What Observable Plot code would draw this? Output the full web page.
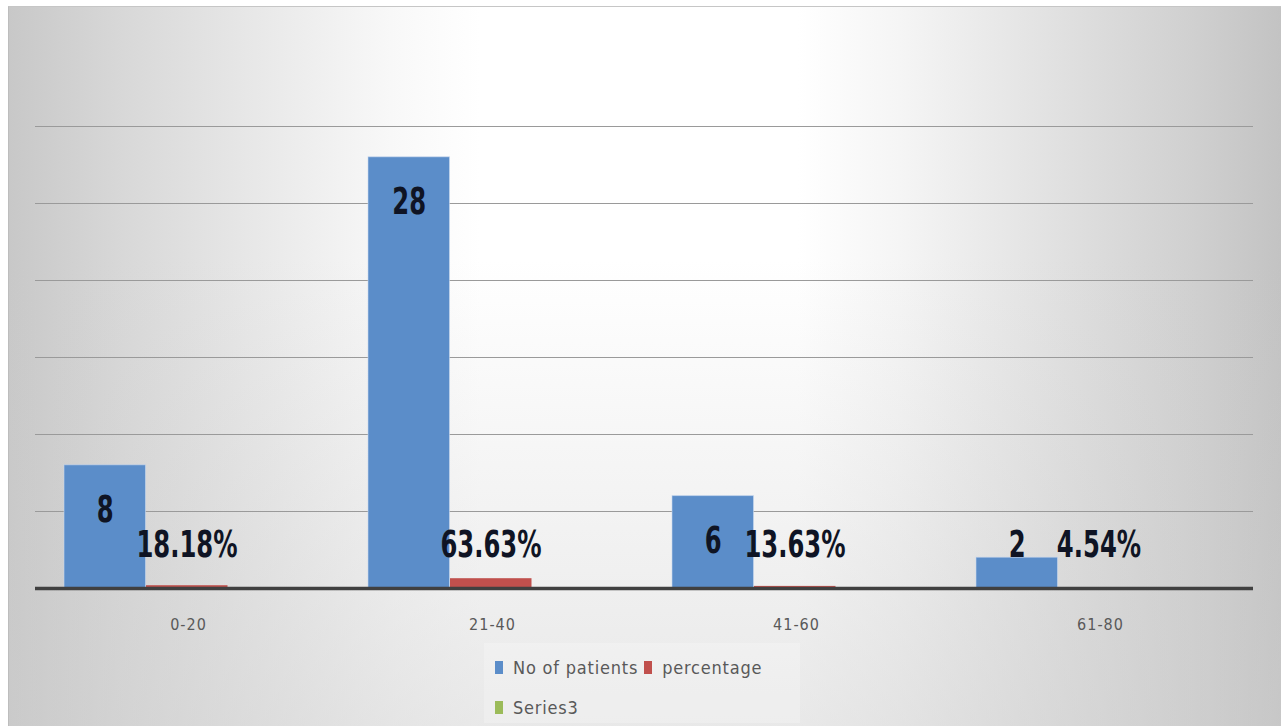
<!DOCTYPE html>
<html>
<head>
<meta charset="utf-8">
<script src="https://cdn.jsdelivr.net/npm/d3@7"></script>
<script src="https://cdn.jsdelivr.net/npm/@observablehq/plot@0.6"></script>
<style>
  html, body { margin: 0; padding: 0; background: #fff; }
  #page { position: relative; width: 1281px; height: 726px; overflow: hidden; }
  #bg {
    position: absolute; left: 8px; top: 6px; right: 0; bottom: 0;
    border-left: 1px solid #bdbdbd; border-top: 1px solid #c6c6c6;
    background:
      linear-gradient(to bottom, rgba(205,205,205,0) 35%, rgba(205,205,205,0.45) 100%),
      linear-gradient(to right, #c8c8c8 0%, #d8d8d8 9%, #e9e9e9 20%, #f8f8f8 30%, #ffffff 37%, #ffffff 62%, #f5f5f5 70%, #e3e3e3 81%, #d0d0d0 93%, #c3c3c3 100%);
  }
  #chart { position: absolute; left: 0; top: 0; }
  #legend {
    position: absolute; left: 484px; top: 643px; width: 316px; height: 80px;
    background: rgba(255,255,255,0.22); box-sizing: border-box;
    font-family: "Liberation Sans Narrow", "DejaVu Sans Condensed", sans-serif;
    font-size: 18px; color: #595959; letter-spacing: 0.8px;
  }
  .row { position: absolute; left: 11px; display: flex; align-items: center; height: 20px; }
  .item { display: flex; align-items: center; margin-right: 6px; white-space: nowrap; }
  .sw { display: inline-block; width: 8px; height: 13px; margin-right: 10px; }
</style>
</head>
<body>
<div id="page">
  <div id="bg"></div>
  <div id="chart"></div>
  <div id="legend"></div>
</div>
<script>
// ---- data ----
const categories = ["0-20", "21-40", "41-60", "61-80"];
const patients = [8, 28, 6, 2];
const percentage = [0.1818, 0.6363, 0.1363, 0.0454];
const percentLabels = ["18.18%", "63.63%", "13.63%", "4.54%"];
const series3 = [null, null, null, null];
const seriesNames = ["No of patients", "percentage", "Series3"];
const yTicks = [5, 10, 15, 20, 25, 30];

// ---- styling / layout ----
const colors = {"No of patients": "#5b8dc9", "percentage": "#c0504d", "Series3": "#9bbb59"};
const W = 1281, H = 640, mL = 35, mR = 28, mT = 126, mB = 52;
const band = (W - mL - mR) / categories.length;
const off = 28, barW = 82;

const rows = categories.map((c, i) => ({
  category: c, patients: patients[i], pct: percentage[i], pctLabel: percentLabels[i], s3: series3[i]
}));

const labelFont = `"Liberation Sans Narrow", "DejaVu Sans Condensed", sans-serif`;

const chart = Plot.plot({
  width: W, height: H,
  marginLeft: mL, marginRight: mR, marginTop: mT, marginBottom: mB,
  style: {background: "transparent", color: "#595959", fontFamily: labelFont, fontSize: "16px", overflow: "visible"},
  x: {domain: categories, padding: 0, label: null, tickSize: 0, tickPadding: 30},
  y: {domain: [0, 30], axis: null},
  marks: [
    Plot.ruleY(yTicks, {stroke: "#9a9a9a", strokeWidth: 1.2}),
    Plot.barY(rows, {x: "category", y: "patients", fill: colors["No of patients"],
      stroke: "#c9d9ee", strokeWidth: 1, strokeOpacity: 0.6,
      insetLeft: off, insetRight: band - off - barW}),
    Plot.barY(rows, {x: "category", y: "pct", fill: colors["percentage"],
      insetLeft: off + barW, insetRight: band - off - 2 * barW}),
    Plot.barY(rows.filter(d => d.s3 != null), {x: "category", y: "s3", fill: colors["Series3"],
      insetLeft: off + 2 * barW, insetRight: band - off - 3 * barW}),
    Plot.ruleY([0], {stroke: "#404040", strokeWidth: 3.5}),
    // count labels inside the bar top
    Plot.text(rows.filter(d => d.patients >= 4), {x: "category", y: "patients", text: d => String(d.patients),
      dx: off + barW / 2 - band / 2, dy: 45, fontSize: 37, fontWeight: "bold", fill: "#0f1424", fontFamily: labelFont}),
    // count labels for short bars (above the bar)
    Plot.text(rows.filter(d => d.patients < 4), {x: "category", y: "patients", text: d => String(d.patients),
      dx: off + barW / 2 - band / 2, dy: -13, fontSize: 37, fontWeight: "bold", fill: "#0f1424", fontFamily: labelFont}),
    // percentage labels, placed above the base
    Plot.text(rows, {x: "category", y: () => 0, text: "pctLabel",
      dx: -1.5, dy: -43, fontSize: 37, fontWeight: "bold", fill: "#0f1424", fontFamily: labelFont})
  ]
});
document.getElementById("chart").appendChild(chart);

// condense the bold labels horizontally (narrow face)
chart.querySelectorAll('g[aria-label="text"] text').forEach(t => {
  const w = t.getComputedTextLength();
  t.setAttribute("textLength", (w * 0.73).toFixed(1));
  t.setAttribute("lengthAdjust", "spacingAndGlyphs");
});
d3.select(chart).selectAll('g[aria-label="x-axis tick label"] text')
  .style("letter-spacing", "1px");

// ---- legend ----
const legend = d3.select("#legend");
const rowsDef = [[0, 1], [2]];
rowsDef.forEach((idxs, r) => {
  const row = legend.append("div").attr("class", "row").style("top", (14 + r * 40) + "px");
  idxs.forEach(i => {
    const it = row.append("div").attr("class", "item");
    it.append("span").attr("class", "sw").style("background", colors[seriesNames[i]]);
    it.append("span").text(seriesNames[i]);
  });
});
</script>
</body>
</html>
